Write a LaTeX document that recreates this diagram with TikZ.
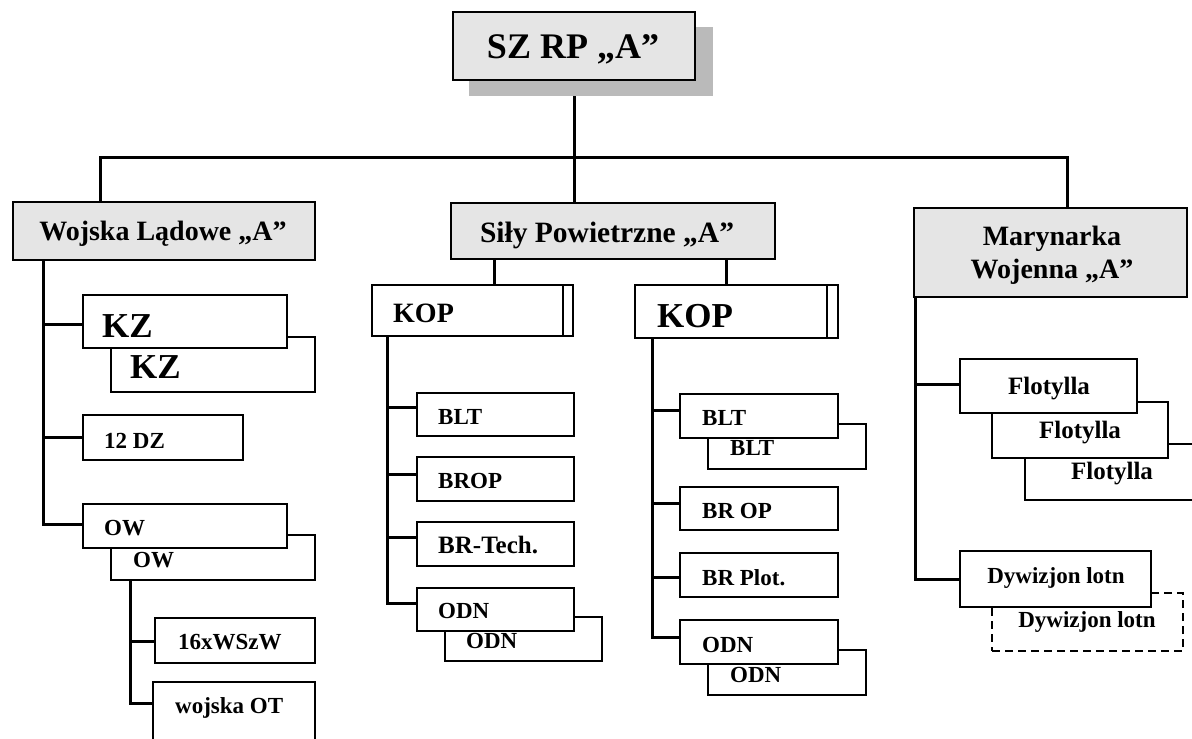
\documentclass[tikz,border=0pt]{standalone}
\usepackage{fontspec}
\setmainfont{Liberation Serif}
\usetikzlibrary{calc,backgrounds}
\tikzset{
  bx/.style={draw, line width=2pt, fill=white, inner sep=0pt},
  hd/.style={bx, fill=black!10},
  dashedbox/.style={bx, dash pattern=on 8pt off 5pt},
  conn/.style={line width=3pt},
  txt/.style={inner sep=0pt},
  f36/.style={txt, font=\bfseries\fontsize{36}{40}\selectfont},
  f35/.style={txt, font=\bfseries\fontsize{35}{40}\selectfont},
  f29/.style={txt, font=\bfseries\fontsize{29.5}{33}\selectfont},
  f28/.style={txt, font=\bfseries\fontsize{28}{32}\selectfont},
  f25/.style={txt, font=\bfseries\fontsize{25}{30}\selectfont},
  f23/.style={txt, font=\bfseries\fontsize{23}{27}\selectfont},
}
% #1 style, #2 name, #3 x1, #4 y1, #5 x2, #6 y2
\newcommand\mybox[6][]{\node[bx,#1,minimum width={#5-#3},minimum height={#6-#4}] (#2) at ({(#3+#5)/2},{(#4+#6)/2}) {};}

\begin{document}
\begin{tikzpicture}[x=1pt,y=-1pt]
\useasboundingbox (0,0) rectangle (1192,739);

% ---------- boxes ----------
\mybox[hd]{top}{453}{12}{695}{80}
\mybox[hd]{wl}{13}{202}{315}{260}
\mybox[hd]{sp}{451}{203}{775}{259}
\mybox[hd]{mw}{914}{208}{1187}{297}

% Wojska Ladowe children
\mybox{kzb}{111}{337}{315}{392}
\mybox{kza}{83}{295}{287}{348}
\mybox{dz}{83}{415}{243}{460}
\mybox{owb}{111}{535}{315}{580}
\mybox{owa}{83}{504}{287}{548}
\mybox{ws}{155}{618}{315}{663}
\mybox{wot}{153}{682}{315}{770}

% KOP 1
\mybox{kopa}{372}{285}{573}{336}
\mybox{blta}{417}{393}{574}{436}
\mybox{bropa}{417}{457}{574}{501}
\mybox{brt}{417}{522}{574}{566}
\mybox{odnab}{445}{617}{602}{661}
\mybox{odnaa}{417}{588}{574}{631}
\draw[line width=2pt] (kopa.north -| 563,0) -- (kopa.south -| 563,0);

% KOP 2
\mybox{kopb}{635}{285}{838}{338}
\mybox{bltbb}{708}{424}{866}{469}
\mybox{bltba}{680}{394}{838}{438}
\mybox{bropb}{680}{487}{838}{530}
\mybox{plot}{680}{553}{838}{597}
\mybox{odnbb}{708}{650}{866}{695}
\mybox{odnba}{680}{620}{838}{664}
\draw[line width=2pt] (kopb.north -| 827,0) -- (kopb.south -| 827,0);

% Marynarka
\mybox{flc}{1025}{444}{1215}{500}
\mybox{flb}{992}{402}{1168}{458}
\mybox{fla}{960}{359}{1137}{413}
\mybox[dashedbox]{dyb}{992}{593}{1183}{651}
\mybox{dya}{960}{551}{1151}{607}

% ---------- connectors (behind boxes) ----------
\coordinate (busL) at (100,157);
\coordinate (busR) at (1067,157);
\coordinate (wlT) at (wl.south -| 43,0);
\coordinate (owT) at (owb.south -| 130,0);
\coordinate (k1T) at (kopa.south -| 387,0);
\coordinate (k2T) at (kopb.south -| 652,0);
\coordinate (mwT) at (mw.south -| 915,0);

\begin{scope}[on background layer]
  \draw[conn] (top.south) -- (top.south |- busL);
  \draw[conn] (wl.north -| busL) -- (busL) -- (busR) -- (mw.north -| busR);
  \draw[conn] (top.south |- busL) -- (sp.north -| top.south);
  % Wojska Ladowe
  \draw[conn] (wlT) |- (kza.west |- 0,324);
  \draw[conn] (wlT) |- (dz.west |- 0,437);
  \draw[conn] (wlT) |- (owa.west |- 0,524);
  \draw[conn] (owT) |- (ws.west |- 0,641);
  \draw[conn] (owT) |- (wot.west |- 0,703);
  % Sily Powietrzne
  \draw[conn] (sp.south -| 494,0) -- (kopa.north -| 494,0);
  \draw[conn] (sp.south -| 726,0) -- (kopb.north -| 726,0);
  \draw[conn] (k1T) |- (blta.west |- 0,407);
  \draw[conn] (k1T) |- (bropa.west |- 0,474);
  \draw[conn] (k1T) |- (brt.west |- 0,537);
  \draw[conn] (k1T) |- (odnaa.west |- 0,603);
  \draw[conn] (k2T) |- (bltba.west |- 0,410);
  \draw[conn] (k2T) |- (bropb.west |- 0,503);
  \draw[conn] (k2T) |- (plot.west |- 0,577);
  \draw[conn] (k2T) |- (odnba.west |- 0,637);
  % Marynarka
  \draw[conn] (mwT) |- (fla.west |- 0,384);
  \draw[conn] (mwT) |- (dya.west |- 0,579);
  % shadow of the top box
  \fill[black!27] ($(top.north west)+(17,16)$) rectangle ($(top.south east)+(17,15)$);
\end{scope}

% ---------- texts ----------
\node[f36, anchor=base] (ttop) at (573,58) {SZ RP „A”};
\node[f28, anchor=base] (twl) at (163,240) {Wojska Lądowe „A”};
\node[f29, anchor=base] (tsp) at (607,242) {Siły Powietrzne „A”};
\node[f28, anchor=base] (tmw1) at (1052,245) {Marynarka};
\node[f28, anchor=base] (tmw2) at (1052,278) {Wojenna „A”};

\node[f35, anchor=base west] (tkza) at (102,337) {KZ};
\node[f35, anchor=base west] (tkzb) at (130,378) {KZ};
\node[f23, anchor=base west] (tdz) at (104,448) {12 DZ};
\node[f23, anchor=base west] (towa) at (104,535) {OW};
\node[f23, anchor=base west] (towb) at (133,567) {OW};
\node[f23, anchor=base west] (tws) at (178,649) {16xWSzW};
\node[f23, anchor=base west] (twot) at (175,713) {wojska OT};

\node[f28, anchor=base west] (tkopa) at (393,322) {KOP};
\node[f23, anchor=base west] (tblta) at (438,424) {BLT};
\node[f23, anchor=base west] (tbropa) at (438,488) {BROP};
\node[f25, anchor=base west] (tbrt) at (438,553) {BR-Tech.};
\node[f23, anchor=base west] (todnaa) at (438,618) {ODN};
\node[f23, anchor=base west] (todnab) at (466,648) {ODN};

\node[f35, anchor=base west] (tkopb) at (657,327) {KOP};
\node[f23, anchor=base west] (tbltba) at (702,425) {BLT};
\node[f23, anchor=base west] (tbltbb) at (730,455) {BLT};
\node[f23, anchor=base west] (tbropb) at (702,518) {BR OP};
\node[f23, anchor=base west] (tplot) at (702,585) {BR Plot.};
\node[f23, anchor=base west] (todnba) at (702,652) {ODN};
\node[f23, anchor=base west] (todnbb) at (730,682) {ODN};

\node[f25, anchor=base] (tfla) at (1049,394) {Flotylla};
\node[f25, anchor=base] (tflb) at (1080,438) {Flotylla};
\node[f25, anchor=base] (tflc) at (1112,479) {Flotylla};
\node[f23, anchor=base] (tdya) at (1056,583) {Dywizjon lotn};
\node[f23, anchor=base] (tdyb) at (1087,627) {Dywizjon lotn};
\end{tikzpicture}
\end{document}
